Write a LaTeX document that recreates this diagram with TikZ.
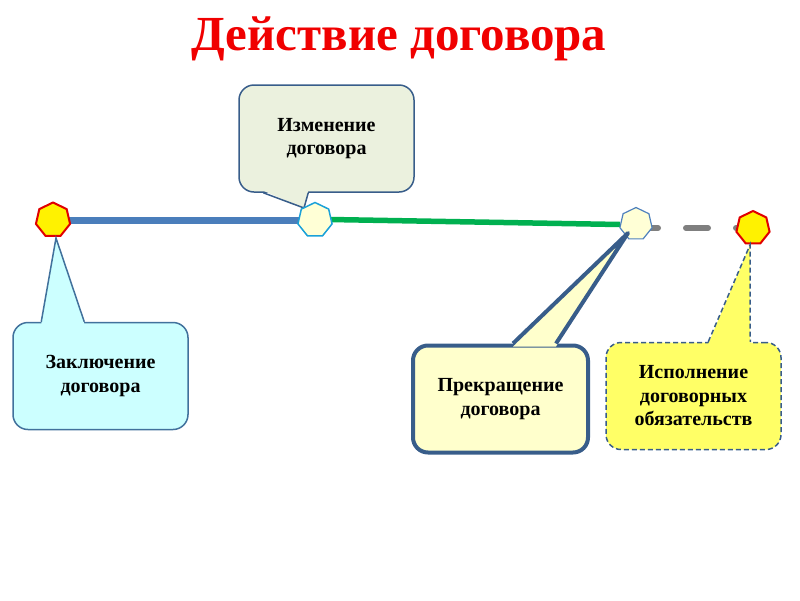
\documentclass[tikz,border=0pt]{standalone}
\usepackage{fontspec}
\setmainfont{Liberation Serif}
\usetikzlibrary{shapes.geometric,calc}
\definecolor{titlered}{HTML}{F00000}
\definecolor{lineblue}{HTML}{4A7EBB}
\definecolor{linegreen}{HTML}{00B050}
\definecolor{linegray}{HTML}{7F7F7F}
\definecolor{hepred}{HTML}{E00000}
\definecolor{hepcyan}{HTML}{1BA1D8}
\definecolor{hepblue}{HTML}{4F81BD}
\definecolor{paleyel}{HTML}{FFFFD6}
\definecolor{bordblue}{HTML}{385D8A}
\definecolor{bordblue2}{HTML}{41719C}
\definecolor{fillcyan}{HTML}{CCFFFF}
\definecolor{fillgray}{HTML}{EBF1DE}
\definecolor{fillcream}{HTML}{FFFFCC}
\definecolor{fillyel}{HTML}{FFFF66}
\tikzset{
  hep/.style={regular polygon, regular polygon sides=7, minimum size=35pt, inner sep=0pt},
  callbox/.style={rectangle, rounded corners=15pt, minimum width=175pt, minimum height=107pt,
    align=center, font=\fontsize{20}{23.5}\selectfont\bfseries, text=black},
}
\begin{document}
\begin{tikzpicture}[x=1pt,y=-1pt]
\useasboundingbox (0,0) rectangle (800,600);
% title
\node[anchor=base, font=\fontsize{49}{52}\selectfont\bfseries, text=titlered] (title) at (399,50) {Действие договора};
% heptagon coordinates (nodes drawn later)
\coordinate (pA) at (53,220);
\coordinate (pB) at (315,220);
\coordinate (pC) at (636,224);
\coordinate (pD) at (753,228);
% timeline
\draw[lineblue, line width=7pt] (pA) -- (pB);
\draw[linegreen, line width=5.5pt] (330,219.5) coordinate (g1) -- (620,224.5) coordinate (g2);
\draw[linegray, line width=6pt, line cap=round, dash pattern=on 22pt off 28pt] (pC |- pD) -- (pD);
% callout 2 (behind heptagon B)
\node[callbox, draw=bordblue, line width=1.5pt, fill=fillgray] (t2) at (326.5,138.5) {Изменение\\договора};
\fill[fillgray] ($(t2.south west)+(25,-2)$) -- ($(pB)+(-11,-12)$) -- ($(t2.south west)+(70,-2)$) -- cycle;
\draw[bordblue, line width=1.5pt, line join=round] ($(t2.south west)+(25,0)$) -- ($(pB)+(-11,-12)$) -- ($(t2.south west)+(70,0)$);
% heptagons
\node[hep, draw=hepred, line width=2pt, fill=yellow] (A) at (pA) {};
\node[hep, draw=hepcyan, line width=1.5pt, fill=paleyel] (B) at (pB) {};
\node[hep, draw=hepblue, line width=1.2pt, fill=paleyel, minimum size=33pt] (C) at (pC) {};
\node[hep, draw=hepred, line width=2pt, fill=yellow, minimum size=34pt] (D) at (pD) {};
% callout 1
\node[callbox, draw=bordblue2, line width=1.5pt, fill=fillcyan] (t1) at (100.5,376) {Заключение\\договора};
\fill[fillcyan] ($(t1.north west)+(29,2)$) -- ($(A)+(3,18)$) -- ($(t1.north west)+(72,2)$) -- cycle;
\draw[bordblue2, line width=1.5pt] ($(t1.north west)+(29,0)$) -- ($(A)+(3,18)$) -- ($(t1.north west)+(72,0)$);
% callout 3
\node[callbox, draw=bordblue, line width=4pt, fill=fillcream] (t3) at (500.5,399) {Прекращение\\договора};
\fill[fillcream] ($(t3.north west)+(102,3)$) -- ($(C)+(-8,9)$) -- ($(t3.north west)+(145,3)$) -- cycle;
\draw[bordblue, line width=4pt, line join=round] ($(t3.north west)+(102,0)$) -- ($(C)+(-8,9)$) -- ($(t3.north west)+(145,0)$);
% callout 4
\node[callbox, draw=bordblue, line width=1.5pt, dash pattern=on 5pt off 3pt, fill=fillyel] (t4) at (693.5,396) {Исполнение\\договорных\\обязательств};
\fill[fillyel] ($(t4.north west)+(103,2)$) -- ($(D)+(-3,17)$) -- ($(t4.north west)+(145,2)$) -- cycle;
\draw[bordblue, line width=1.5pt, dash pattern=on 5pt off 3pt] ($(t4.north west)+(103,0)$) -- ($(D)+(-3,17)$) -- ($(t4.north west)+(145,0)$);
\end{tikzpicture}
\end{document}
